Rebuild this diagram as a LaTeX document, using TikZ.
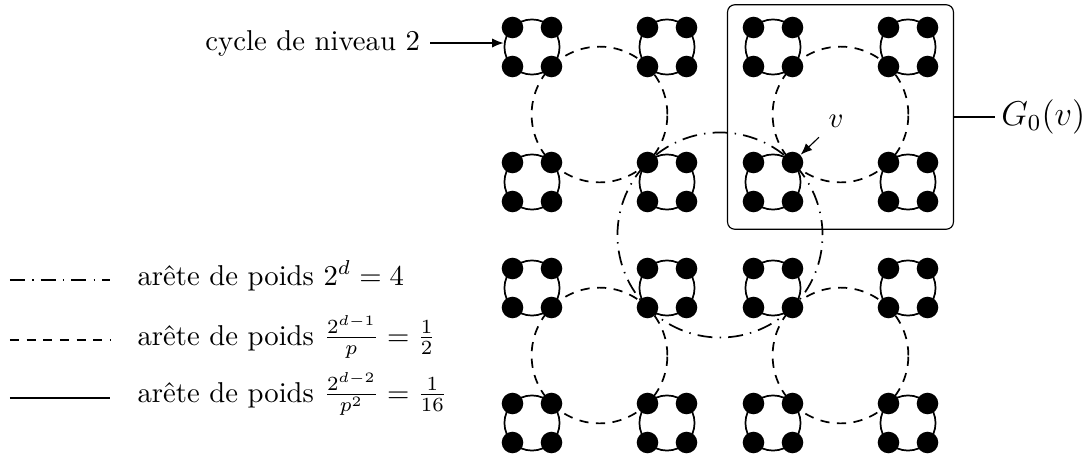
\documentclass[tikz,border=0pt]{standalone}
\usepackage{amsmath}
\usetikzlibrary{arrows.meta}
\begin{document}
\begin{tikzpicture}[x=0.3484pt,y=0.3484pt,
  vtx/.style={circle,fill=black,inner sep=0pt,minimum size=7.5pt},
  cyc/.style={circle,draw,semithick,inner sep=0pt,minimum size=19.2pt},
  lvlone/.style={semithick,dash pattern=on 3.2pt off 2.6pt},
  lvltwo/.style={semithick,dash pattern=on 5.2pt off 2.5pt on 0.5pt off 2.5pt},
  plainedge/.style={thick},
  >={Latex[length=4pt,width=3.2pt]}]
\useasboundingbox (0,0) rectangle (1092,457);
\def\ccx{720}\def\ccy{222}
% level-2 cycle (dash-dotted)
\draw[lvltwo] (\ccx,\ccy) circle (102.53);
% level-1 cycles (dashed)
\foreach \bx in {-1,1}
 \foreach \by in {-1,1}
  \draw[lvlone] ({\ccx+120.5*\bx},{\ccy+120.5*\by}) circle (67.88);
% level-0 cycles (solid)
\foreach \bx/\bn in {-1/a,1/b}
 \foreach \by/\bm in {-1/a,1/b}
  \foreach \kx/\kn in {-1/a,1/b}
   \foreach \ky/\km in {-1/a,1/b}
    \node[cyc] (k\bn\bm\kn\km) at ({\ccx+120.5*\bx+67.5*\kx},{\ccy+120.5*\by+67.5*\ky}) {};
% vertices
\foreach \bx/\bn in {-1/a,1/b}
 \foreach \by/\bm in {-1/a,1/b}
  \foreach \kx/\kn in {-1/a,1/b}
   \foreach \ky/\km in {-1/a,1/b}
    \foreach \nx/\nn in {-1/a,1/b}
     \foreach \ny/\nm in {-1/a,1/b}
      \node[vtx] (v\bn\bm\kn\km\nn\nm) at ({\ccx+120.5*\bx+67.5*\kx+19.5*\nx},{\ccy+120.5*\by+67.5*\ky+19.5*\ny}) {};
% label cycle de niveau 2
\node[anchor=east] (lbl) at (430,414) {cycle de niveau 2};
\draw[->,thin] (lbl.east) -- (lbl.east -| kabab.west);
% box G0(v)
\node[draw,thin,rounded corners=2.5pt,minimum width=78.7pt,minimum height=78.2pt] (g0) at (840.5,340) {};
\node[anchor=west,inner sep=2pt] (glbl) at (995,340) {\large $G_0(v)$};
\draw[thin] (g0.east) -- (g0.east -| glbl.west);
% label v
\node (vl) at (836,336) {$v$};
\draw[->,thin] (vl) -- (vbbaabb);
% legend
\coordinate (la1) at (10,177); \coordinate (lb1) at (110,177);
\coordinate (la2) at (10,117); \coordinate (lb2) at (110,117);
\coordinate (la3) at (10,59);  \coordinate (lb3) at (110,59);
\draw[lvltwo] (la1) -- (lb1);
\draw[lvlone] (la2) -- (lb2);
\draw[plainedge] (la3) -- (lb3);
\node[anchor=base west,inner sep=0pt] (t1) at (137,172) {arête de poids $2^d=4$};
\node[anchor=base west,inner sep=0pt] (t2) at (137,112) {arête de poids $\frac{2^{d-1}}{p}=\frac{1}{2}$};
\node[anchor=base west,inner sep=0pt] (t3) at (137,55) {arête de poids $\frac{2^{d-2}}{p^2}=\frac{1}{16}$};
\end{tikzpicture}
\end{document}
